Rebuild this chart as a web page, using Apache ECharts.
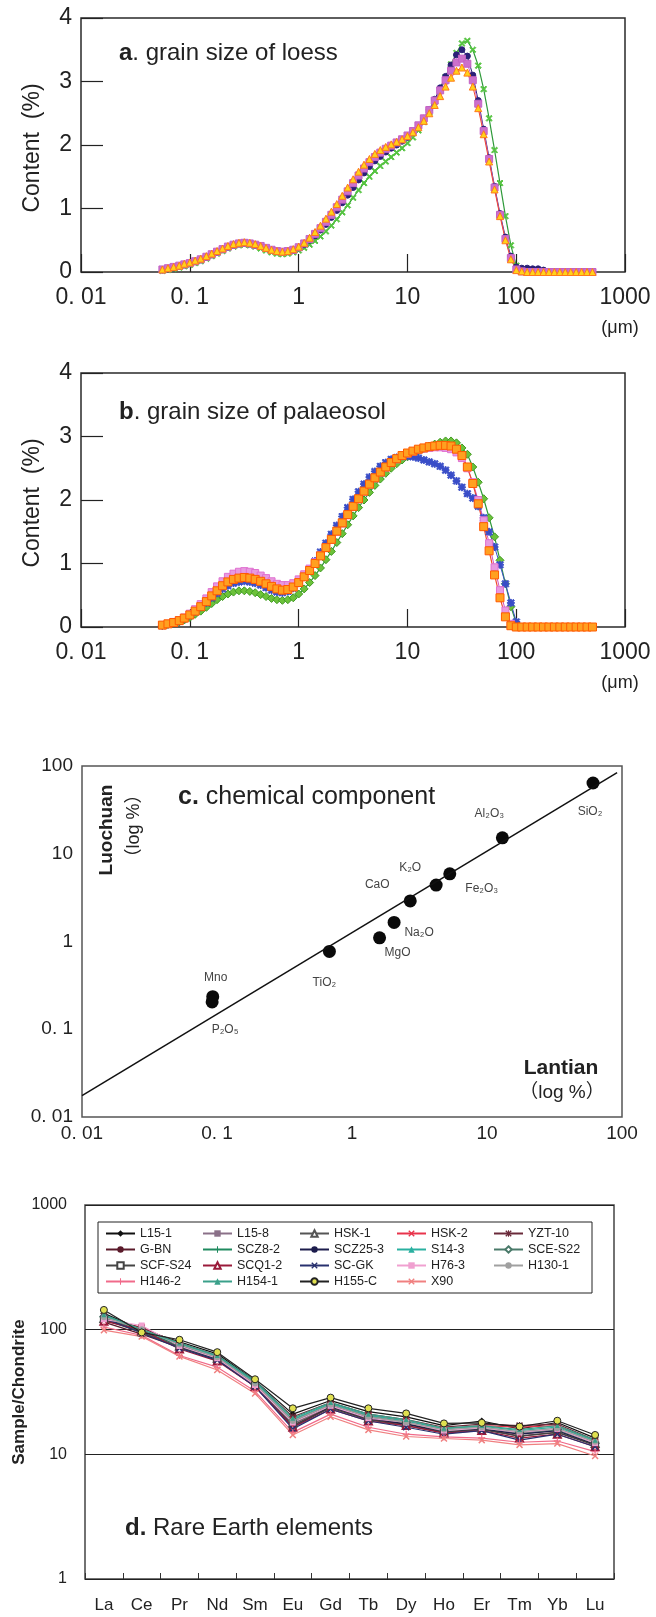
<!DOCTYPE html>
<html>
<head>
<meta charset="utf-8">
<script src="https://cdn.jsdelivr.net/npm/echarts@6/dist/echarts.min.js"></script>
<style>
html, body { margin: 0; padding: 0; background: #fff; }
#chart { width: 656px; height: 1617px; }
</style>
</head>
<body>
<div id="chart"></div>
<script>
// grain size bins (um)
var SIZES = [0.056,0.063,0.071,0.080,0.089,
  0.100,0.112,0.126,0.142,0.159,0.178,0.200,0.224,0.252,0.283,0.317,0.356,0.399,0.448,0.502,0.564,0.632,0.710,0.796,0.893,
  1.002,1.125,1.262,1.416,1.589,1.783,2.000,2.244,2.518,2.825,3.170,3.557,3.991,4.477,5.024,5.637,6.325,7.096,7.962,8.934,
  10.024,11.247,12.619,14.159,15.887,17.825,20.000,22.440,25.179,28.251,31.698,35.566,39.905,44.774,50.238,56.368,63.246,70.963,79.621,89.337,
  100.237,112.468,126.191,141.589,158.866,178.250,200.000,224.404,251.785,282.508,316.979,355.656,399.052,447.744,502.377];

// a. loess
var LOESS_GREEN = [0.02,0.03,0.05,0.07,0.09,0.11,0.14,0.17,0.21,0.25,
  0.29,0.33,0.37,0.40,0.42,0.43,0.42,0.40,0.37,0.34,
  0.31,0.29,0.28,0.29,0.31,0.34,0.38,0.43,0.49,0.56,
  0.64,0.73,0.83,0.94,1.05,1.17,1.29,1.40,1.50,1.59,
  1.67,1.74,1.81,1.88,1.95,2.03,2.12,2.23,2.36,2.51,
  2.68,2.87,3.07,3.27,3.45,3.60,3.64,3.50,3.25,2.88,
  2.42,1.92,1.40,0.88,0.42,0.10,0,0,0,0,
  0,0,0,0,0,0,0,0,0,0];
var LOESS_NAVY = [0.03,0.05,0.07,0.09,0.11,0.13,0.16,0.19,0.23,0.27,
  0.31,0.35,0.39,0.42,0.44,0.45,0.44,0.42,0.40,0.37,
  0.34,0.32,0.31,0.32,0.34,0.38,0.43,0.50,0.57,0.66,
  0.75,0.86,0.97,1.09,1.21,1.33,1.45,1.56,1.66,1.75,
  1.82,1.89,1.95,2.00,2.06,2.12,2.20,2.30,2.42,2.56,
  2.72,2.90,3.08,3.26,3.42,3.50,3.40,3.10,2.70,2.25,
  1.80,1.35,0.92,0.55,0.25,0.08,0.06,0.06,0.05,0.05,
  0.03,0.01,0,0,0,0,0,0,0,0];
var LOESS_MAGENTA = [0.04,0.06,0.08,0.10,0.12,0.14,0.17,0.20,0.24,0.28,
  0.32,0.36,0.40,0.43,0.45,0.46,0.45,0.43,0.41,0.38,
  0.35,0.33,0.32,0.33,0.35,0.39,0.45,0.52,0.60,0.69,
  0.79,0.90,1.02,1.14,1.27,1.40,1.52,1.63,1.73,1.81,
  1.88,1.94,1.99,2.04,2.09,2.15,2.22,2.31,2.42,2.55,
  2.70,2.86,3.02,3.17,3.30,3.36,3.28,3.02,2.65,2.22,
  1.78,1.33,0.90,0.52,0.22,0.04,0.01,0,0,0,
  0,0,0,0,0,0,0,0,0,0];
var LOESS_ORANGE = [0.04,0.06,0.08,0.10,0.13,0.15,0.18,0.21,0.25,0.29,
  0.33,0.37,0.41,0.44,0.46,0.47,0.46,0.44,0.41,0.38,
  0.35,0.33,0.32,0.33,0.36,0.40,0.46,0.54,0.63,0.73,
  0.84,0.95,1.07,1.20,1.33,1.46,1.58,1.69,1.78,1.86,
  1.92,1.97,2.01,2.05,2.09,2.14,2.20,2.28,2.38,2.50,
  2.63,2.77,2.92,3.06,3.17,3.22,3.14,2.92,2.58,2.17,
  1.74,1.30,0.88,0.50,0.20,0.03,0.01,0,0,0,
  0,0,0,0,0,0,0,0,0,0];

// b. palaeosol
var PALAEO_GREEN = [0.02,0.04,0.06,0.08,0.11,0.15,0.20,0.25,0.31,0.37,
  0.43,0.48,0.52,0.55,0.57,0.57,0.56,0.54,0.51,0.48,
  0.45,0.43,0.42,0.43,0.46,0.52,0.60,0.70,0.81,0.93,
  1.06,1.19,1.33,1.47,1.61,1.75,1.88,2.00,2.12,2.23,
  2.33,2.42,2.50,2.57,2.63,2.68,2.73,2.77,2.81,2.85,
  2.88,2.91,2.93,2.93,2.90,2.82,2.72,2.52,2.28,2.02,
  1.72,1.42,1.05,0.68,0.32,0.06,0,0,0,0,
  0,0,0,0,0,0,0,0,0,0];
var PALAEO_BLUE = [0.02,0.04,0.06,0.09,0.13,0.18,0.24,0.31,0.38,0.46,
  0.53,0.60,0.65,0.69,0.71,0.72,0.71,0.69,0.66,0.62,
  0.58,0.55,0.54,0.56,0.61,0.69,0.79,0.91,1.04,1.18,
  1.32,1.46,1.60,1.74,1.88,2.01,2.13,2.25,2.36,2.45,
  2.53,2.59,2.64,2.67,2.69,2.69,2.68,2.66,2.63,2.60,
  2.57,2.53,2.47,2.39,2.30,2.20,2.10,2.03,1.90,1.72,
  1.50,1.26,0.98,0.68,0.38,0.08,0,0,0,0,
  0,0,0,0,0,0,0,0,0,0];
var PALAEO_PINK = [0.03,0.05,0.08,0.11,0.15,0.21,0.28,0.36,0.45,0.55,
  0.64,0.72,0.79,0.84,0.87,0.88,0.87,0.85,0.81,0.77,
  0.72,0.68,0.66,0.66,0.69,0.75,0.83,0.92,1.02,1.13,
  1.25,1.37,1.50,1.63,1.76,1.89,2.01,2.13,2.24,2.34,
  2.43,2.51,2.58,2.64,2.69,2.73,2.76,2.79,2.81,2.82,
  2.83,2.83,2.82,2.80,2.75,2.66,2.50,2.28,2.00,1.68,
  1.32,0.94,0.58,0.26,0.05,0,0,0,0,0,
  0,0,0,0,0,0,0,0,0,0];
var PALAEO_ORANGE = [0.03,0.05,0.07,0.10,0.14,0.19,0.25,0.32,0.40,0.49,
  0.57,0.65,0.71,0.75,0.77,0.78,0.77,0.75,0.72,0.68,
  0.64,0.60,0.58,0.59,0.63,0.70,0.79,0.89,1.00,1.12,
  1.25,1.38,1.51,1.64,1.77,1.90,2.02,2.14,2.25,2.35,
  2.44,2.52,2.59,2.65,2.70,2.74,2.77,2.80,2.82,2.84,
  2.85,2.86,2.86,2.85,2.80,2.70,2.52,2.26,1.94,1.58,
  1.20,0.82,0.46,0.16,0.02,0,0,0,0,0,
  0,0,0,0,0,0,0,0,0,0];

// c. chemical component (%)
var OXIDES   = ['SiO₂', 'Al₂O₃', 'Fe₂O₃', 'K₂O', 'CaO', 'Na₂O', 'MgO', 'TiO₂', 'Mno', 'P₂O₅'];
var LANTIAN  = [61, 13, 5.3, 4.2, 2.7, 2.05, 1.6, 0.68, 0.093, 0.092];
var LUOCHUAN = [64, 15.2, 5.9, 4.4, 2.9, 1.65, 1.1, 0.77, 0.235, 0.205];
var FIT_X = [0.01, 92];
var FIT_Y = [0.0175, 84];

// d. rare earth elements (sample / chondrite)
var REE = ['La', 'Ce', 'Pr', 'Nd', 'Sm', 'Eu', 'Gd', 'Tb', 'Dy', 'Ho', 'Er', 'Tm', 'Yb', 'Lu'];
var SAMPLES = ['L15-1', 'L15-8', 'HSK-1', 'HSK-2', 'YZT-10', 'G-BN', 'SCZ8-2', 'SCZ25-3', 'S14-3', 'SCE-S22',
  'SCF-S24', 'SCQ1-2', 'SC-GK', 'H76-3', 'H130-1', 'H146-2', 'H154-1', 'H155-C', 'X90'];
var REE_L15_1   = [135, 100, 80, 64, 39, 21, 27, 22, 20, 17, 18.5, 16, 18, 13.5];
var REE_L15_8   = [119, 104, 73, 58, 36, 17.5, 24, 19, 17.5, 15.2, 16, 14.5, 15.5, 12];
var REE_HSK_1   = [123, 97, 74, 59, 36.5, 17.8, 24.5, 19.5, 17.8, 15.4, 16.2, 14.8, 15.8, 12.2];
var REE_HSK_2   = [118, 105, 76, 60, 37, 19, 25, 20.5, 18.5, 16, 17, 16.5, 17, 12.5];
var REE_YZT_10  = [128, 103, 78, 62, 38, 20, 26, 21, 19, 16.5, 17.5, 17, 17.5, 13];
var REE_G_BN    = [115, 92, 72, 57, 35, 17, 24, 19, 17.5, 15.5, 16, 14, 15, 12];
var REE_SCZ8_2  = [125, 98, 75, 60, 37, 18, 25, 20, 18, 15.5, 16.5, 15, 16, 12.5];
var REE_SCZ25_3 = [122, 97, 73, 58, 36, 16.5, 24, 19.5, 17.5, 15, 16, 14.5, 15.5, 12];
var REE_S14_3   = [130, 99, 77, 61, 38, 19, 25.5, 20.5, 18.5, 16, 16.8, 15.5, 16.5, 12.8];
var REE_SCE_S22 = [127, 96, 74, 59, 36.5, 18.5, 24.5, 20, 18, 15.5, 16.2, 15, 15.8, 12.3];
var REE_SCF_S24 = [120, 95, 72, 57, 35.5, 17, 23.5, 19, 17, 15, 15.8, 14, 15, 11.8];
var REE_SCQ1_2  = [117, 100, 70, 56, 35, 16.5, 23, 18.5, 17, 14.8, 15.5, 13.5, 14.5, 11.5];
var REE_SC_GK   = [124, 94, 71, 57, 35, 16, 23, 18.5, 16.5, 14.5, 15.5, 13, 14.5, 11.5];
var REE_H76_3   = [121, 108, 74, 59, 36, 18, 24.5, 19.5, 18, 15.5, 16.3, 15, 16, 12.3];
var REE_H130_1  = [126, 101, 76, 60, 37, 18.5, 25, 20, 18, 15.8, 16.5, 15.2, 16.2, 12.6];
var REE_H146_2  = [105, 90, 62, 50, 32, 15, 21, 16.5, 14.5, 13.8, 13.5, 12.5, 12.8, 10.5];
var REE_H154_1  = [132, 100, 78, 62, 39, 19.5, 26, 21, 19, 16.2, 17, 15.8, 17, 13];
var REE_H155_C  = [144, 95, 83, 66, 40, 23.4, 28.5, 23.4, 21.3, 17.7, 17.9, 16.7, 18.6, 14.3];
var REE_X90     = [99, 88, 61, 47.5, 30.8, 14.3, 20, 15.7, 13.9, 13.4, 13, 11.9, 12.2, 9.7];
var REE_DATA = [REE_L15_1, REE_L15_8, REE_HSK_1, REE_HSK_2, REE_YZT_10, REE_G_BN, REE_SCZ8_2, REE_SCZ25_3,
  REE_S14_3, REE_SCE_S22, REE_SCF_S24, REE_SCQ1_2, REE_SC_GK, REE_H76_3, REE_H130_1, REE_H146_2,
  REE_H154_1, REE_H155_C, REE_X90];

var FONT = 'Liberation Sans, Arial, Helvetica, sans-serif';
var SYM_X = 'path://M0,1.5L1.5,0L5,3.5L8.5,0L10,1.5L6.5,5L10,8.5L8.5,10L5,6.5L1.5,10L0,8.5L3.5,5Z';
var SYM_PLUS = 'path://M4.2,0h1.6v4.2h4.2v1.6h-4.2v4.2h-1.6v-4.2h-4.2v-1.6h4.2z';
var SYM_STAR = SYM_PLUS + 'M0,1.5L1.5,0L5,3.5L8.5,0L10,1.5L6.5,5L10,8.5L8.5,10L5,6.5L1.5,10L0,8.5L3.5,5Z';

// line colour, symbol, symbol size, fill (optional)
var REE_STYLE = [
  ['#111111', 'diamond', 7], ['#8a7088', 'rect', 6], ['#555555', 'emptyTriangle', 7],
  ['#e8344c', SYM_X, 7], ['#6a2a3a', SYM_STAR, 7], ['#5a1a2a', 'circle', 6],
  ['#1f8a5f', SYM_PLUS, 7], ['#1c1c4c', 'circle', 4], ['#2ab0a0', 'triangle', 6],
  ['#4a7a6a', 'emptyDiamond', 7], ['#444444', 'emptyRect', 6], ['#9a1a3a', 'emptyTriangle', 7],
  ['#28306e', SYM_X, 7], ['#f0a0d0', 'rect', 6], ['#a0a0a0', 'circle', 6],
  ['#f06a8a', SYM_PLUS, 7], ['#3aa08a', 'triangle', 5], ['#222222', 'circle', 7, '#e0e050'],
  ['#f08080', SYM_X, 7]
];

function pairs(vals) {
  return SIZES.map(function (s, i) { return [s, vals[i]]; });
}

function fmtLog(v) {
  if (v < 0.05) return '0. 01';
  if (v < 0.5) return '0. 1';
  return String(Math.round(v));
}

var grainX = function (idx) {
  return {
    gridIndex: idx, type: 'log', logBase: 10, min: 0.01, max: 1000,
    axisLine: { show: false },
    axisTick: { show: true, inside: true, length: 18, lineStyle: { color: '#222', width: 1.2 } },
    minorTick: { show: false }, splitLine: { show: false },
    axisLabel: { fontSize: 23, margin: 14, color: '#222', fontFamily: FONT, formatter: fmtLog,
      showMinLabel: true, showMaxLabel: true }
  };
};
var grainY = function (idx) {
  return {
    gridIndex: idx, type: 'value', min: 0, max: 4, interval: 1,
    axisLine: { show: false },
    axisTick: { show: true, inside: true, length: 22, lineStyle: { color: '#222', width: 1.2 } },
    splitLine: { show: false },
    axisLabel: { fontSize: 23, margin: 9, color: '#222', fontFamily: FONT }
  };
};

var grainSeries = function (idx, name, vals, symbol, size, color, fill, lineColor, lineWidth) {
  return {
    type: 'line', name: name, xAxisIndex: idx, yAxisIndex: idx,
    data: pairs(vals), symbol: symbol, symbolSize: size, showAllSymbol: true,
    lineStyle: { color: lineColor, width: lineWidth },
    itemStyle: { color: fill, borderColor: color, borderWidth: 1 },
    emphasis: { disabled: true }
  };
};

var series = [
  grainSeries(0, 'loess-green', LOESS_GREEN, SYM_X, 6, '#55c440', '#55c440', '#2f9a3a', 1.2),
  grainSeries(0, 'loess-navy', LOESS_NAVY, 'circle', 6, '#2a1f78', '#2a1f78', '#2a1f78', 1),
  grainSeries(0, 'loess-magenta', LOESS_MAGENTA, 'rect', 7, '#c462c4', '#cc70cc', '#c462c4', 1),
  grainSeries(0, 'loess-orange', LOESS_ORANGE, 'triangle', 7, '#ff7a1a', '#ffd21a', '#f04a30', 1),
  grainSeries(1, 'palaeo-green', PALAEO_GREEN, 'diamond', 8, '#3f9a22', '#6cc23a', '#2f9a3a', 1.2),
  grainSeries(1, 'palaeo-blue', PALAEO_BLUE, SYM_STAR, 7, '#3a4ec8', '#3a4ec8', '#3a4ec8', 1),
  grainSeries(1, 'palaeo-pink', PALAEO_PINK, 'rect', 7, '#e070d0', '#e79ae0', '#d050c0', 1),
  grainSeries(1, 'palaeo-orange', PALAEO_ORANGE, 'rect', 8, '#ff5a00', '#ffa020', '#f04a30', 1.2)
];

// c
series.push({
  type: 'line', name: 'fit', xAxisIndex: 2, yAxisIndex: 2,
  data: FIT_X.map(function (x, i) { return [x, FIT_Y[i]]; }),
  symbol: 'none', lineStyle: { color: '#111', width: 1.5 }, emphasis: { disabled: true }
});
var OXIDE_OFFSETS = [[-3, 29], [-13, -24], [32, 15], [-26, -17], [-33, -16], [25, 10], [18, 15], [-5, 31], [3, -19], [13, 28]];
series.push({
  type: 'scatter', name: 'oxides', xAxisIndex: 2, yAxisIndex: 2, symbolSize: 13,
  itemStyle: { color: '#0a0a0a', opacity: 1 },
  data: OXIDES.map(function (n, i) {
    return {
      name: n, value: [LANTIAN[i], LUOCHUAN[i]],
      label: { show: true, position: 'inside', offset: OXIDE_OFFSETS[i], formatter: '{b}',
        color: '#444', fontSize: 12, fontFamily: FONT }
    };
  }),
  emphasis: { disabled: true }
});

// d
SAMPLES.forEach(function (name, i) {
  var st = REE_STYLE[i];
  series.push({
    type: 'line', name: name, xAxisIndex: 3, yAxisIndex: 3, data: REE_DATA[i],
    symbol: st[1], symbolSize: st[2],
    lineStyle: { color: st[0], width: 1.2 },
    itemStyle: st[3] ? { color: st[3], borderColor: '#222', borderWidth: 1 } : { color: st[0] },
    z: name === 'H155-C' ? 3 : 2,
    emphasis: { disabled: true }
  });
});

var option = {
  animation: false,
  backgroundColor: '#fff',
  textStyle: { fontFamily: FONT },
  title: [
    { text: '{b|a}. grain size of loess', left: 119, top: 41, padding: 0,
      textStyle: { fontSize: 24, fontWeight: 'normal', color: '#222', fontFamily: FONT,
        rich: { b: { fontWeight: 'bold', fontSize: 24, color: '#222', fontFamily: FONT } } } },
    { text: '{b|b}. grain size of palaeosol', left: 119, top: 400, padding: 0,
      textStyle: { fontSize: 24, fontWeight: 'normal', color: '#222', fontFamily: FONT,
        rich: { b: { fontWeight: 'bold', fontSize: 24, color: '#222', fontFamily: FONT } } } },
    { text: '{b|c.} chemical component', left: 178, top: 785, padding: 0,
      textStyle: { fontSize: 25, fontWeight: 'normal', color: '#222', fontFamily: FONT,
        rich: { b: { fontWeight: 'bold', fontSize: 25, color: '#222', fontFamily: FONT } } } },
    { text: '{b|d.} Rare Earth elements', left: 125, top: 1516, padding: 0,
      textStyle: { fontSize: 24, fontWeight: 'normal', color: '#222', fontFamily: FONT,
        rich: { b: { fontWeight: 'bold', fontSize: 24, color: '#222', fontFamily: FONT } } } }
  ],
  grid: [
    { left: 81, top: 18, width: 544, height: 254, show: true, borderColor: '#2a2a2a', borderWidth: 1.5 },
    { left: 81, top: 373, width: 544, height: 254, show: true, borderColor: '#2a2a2a', borderWidth: 1.5 },
    { left: 82, top: 766, width: 540, height: 351, show: true, borderColor: '#555', borderWidth: 1.5 },
    { left: 85, top: 1205, width: 529, height: 374, show: true, borderColor: '#444', borderWidth: 1.5 }
  ],
  xAxis: [
    grainX(0), grainX(1),
    { gridIndex: 2, type: 'log', logBase: 10, min: 0.01, max: 100,
      axisLine: { show: false }, axisTick: { show: false }, splitLine: { show: false }, minorTick: { show: false },
      axisLabel: { fontSize: 19, margin: 7, color: '#222', fontFamily: FONT, formatter: fmtLog,
        showMinLabel: true, showMaxLabel: true } },
    { gridIndex: 3, type: 'category', data: REE, boundaryGap: true,
      axisLine: { show: false },
      axisTick: { show: true, inside: true, length: 6, alignWithLabel: false, lineStyle: { color: '#333', width: 1 } },
      axisLabel: { fontSize: 17, margin: 18, color: '#222', fontFamily: FONT, interval: 0 } }
  ],
  yAxis: [
    grainY(0), grainY(1),
    { gridIndex: 2, type: 'log', logBase: 10, min: 0.01, max: 100,
      axisLine: { show: false }, axisTick: { show: false }, splitLine: { show: false }, minorTick: { show: false },
      axisLabel: { fontSize: 19, margin: 9, color: '#222', fontFamily: FONT, formatter: fmtLog,
        showMinLabel: true, showMaxLabel: true } },
    { gridIndex: 3, type: 'log', logBase: 10, min: 1, max: 1000,
      axisLine: { show: false }, axisTick: { show: false }, minorTick: { show: false },
      splitLine: { show: true, lineStyle: { color: '#222', width: 1.2 } },
      axisLabel: { fontSize: 16, margin: 18, color: '#222', fontFamily: FONT, formatter: fmtLog } }
  ],
  legend: {
    data: SAMPLES, left: 98, top: 1222, width: 500, orient: 'horizontal',
    itemWidth: 29, itemHeight: 8, itemGap: 3, padding: [5, 5, 5, 7],
    borderColor: '#222', borderWidth: 1, selectedMode: false,
    textStyle: { fontSize: 12.5, lineHeight: 10, width: 59, color: '#222', fontFamily: FONT }
  },
  graphic: [
    { type: 'text', x: 33, y: 148, rotation: Math.PI / 2,
      style: { text: 'Content  (%)', font: '23px ' + FONT, fill: '#222', align: 'center', verticalAlign: 'middle' } },
    { type: 'text', x: 33, y: 503, rotation: Math.PI / 2,
      style: { text: 'Content  (%)', font: '23px ' + FONT, fill: '#222', align: 'center', verticalAlign: 'middle' } },
    { type: 'text', x: 620, y: 328,
      style: { text: '(μm)', font: '18px ' + FONT, fill: '#222', align: 'center', verticalAlign: 'middle' } },
    { type: 'text', x: 620, y: 683,
      style: { text: '(μm)', font: '18px ' + FONT, fill: '#222', align: 'center', verticalAlign: 'middle' } },
    { type: 'text', x: 107, y: 830, rotation: Math.PI / 2,
      style: { text: 'Luochuan', font: 'bold 19px ' + FONT, fill: '#222', align: 'center', verticalAlign: 'middle' } },
    { type: 'text', x: 134, y: 826, rotation: Math.PI / 2,
      style: { text: '（log %）', font: '18px ' + FONT + ', Noto Sans CJK SC', fill: '#222', align: 'center', verticalAlign: 'middle' } },
    { type: 'text', x: 561, y: 1068,
      style: { text: 'Lantian', font: 'bold 21px ' + FONT, fill: '#222', align: 'center', verticalAlign: 'middle' } },
    { type: 'text', x: 562, y: 1093,
      style: { text: '（log %）', font: '19px ' + FONT + ', Noto Sans CJK SC', fill: '#222', align: 'center', verticalAlign: 'middle' } },
    { type: 'text', x: 19, y: 1392, rotation: Math.PI / 2,
      style: { text: 'Sample/Chondrite', font: 'bold 17px ' + FONT, fill: '#222', align: 'center', verticalAlign: 'middle' } }
  ],
  series: series
};

var myChart = echarts.init(document.getElementById('chart'));
myChart.setOption(option);
</script>
</body>
</html>
